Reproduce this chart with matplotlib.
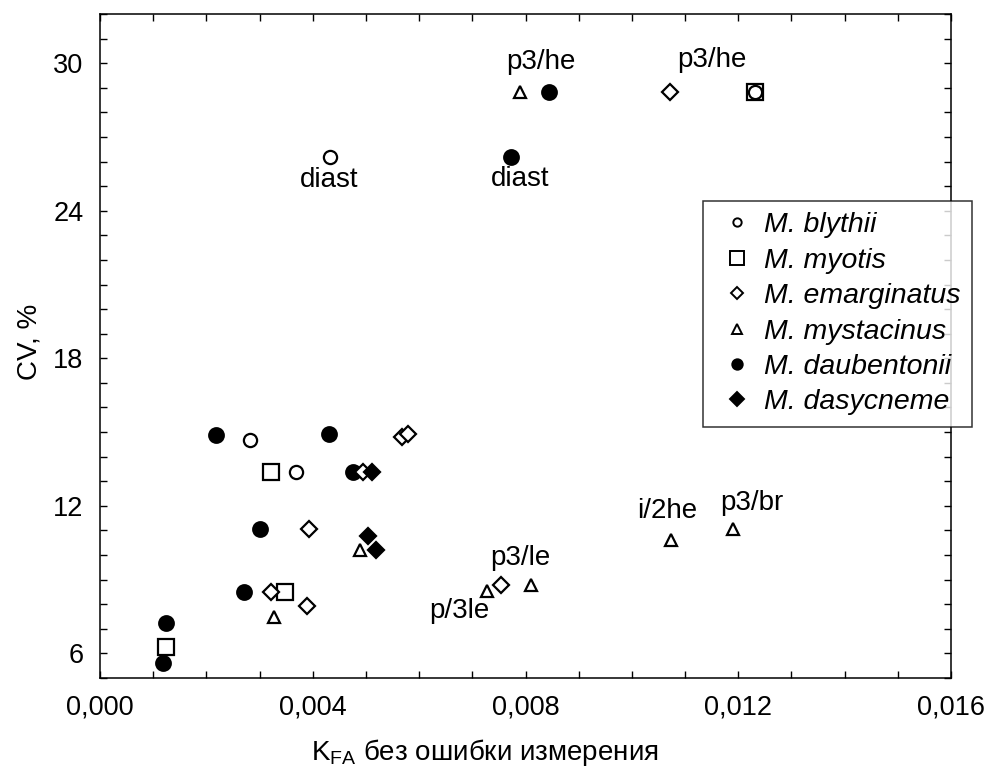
import matplotlib
matplotlib.use("Agg")
import matplotlib.pyplot as plt
from matplotlib.lines import Line2D
from matplotlib.ticker import MultipleLocator

plt.rcParams['font.family'] = ['Liberation Sans', 'DejaVu Sans']
plt.rcParams['mathtext.fontset'] = 'custom'
plt.rcParams['mathtext.rm'] = 'Liberation Sans'
plt.rcParams['mathtext.it'] = 'Liberation Sans:italic'

# ---- data ----
blythii_x = [0.00282, 0.00368, 0.00433, 0.01232]
blythii_y = [14.66, 13.38, 26.2, 28.82]

myotis_x = [0.00124, 0.00322, 0.00347, 0.01232]
myotis_y = [6.26, 13.38, 8.5, 28.82]

emarginatus_x = [0.00322, 0.00389, 0.00393, 0.00495, 0.00568, 0.0058, 0.00754, 0.01072]
emarginatus_y = [8.5, 7.94, 11.06, 13.38, 14.8, 14.93, 8.8, 28.82]

mystacinus_x = [0.00328, 0.00488, 0.00728, 0.0081, 0.0079, 0.01074, 0.0119]
mystacinus_y = [7.5, 10.2, 8.55, 8.8, 28.82, 10.6, 11.05]

daubentonii_x = [0.00118, 0.00125, 0.0027, 0.0030, 0.00218, 0.00431, 0.00475, 0.00773, 0.00845]
daubentonii_y = [5.63, 7.23, 8.5, 11.06, 14.88, 14.93, 13.38, 26.17, 28.82]

dasycneme_x = [0.00504, 0.00511, 0.00519]
dasycneme_y = [10.79, 13.38, 10.2]

species = ['M. blythii', 'M. myotis', 'M. emarginatus', 'M. mystacinus',
           'M. daubentonii', 'M. dasycneme']

note_text = ['p3/he', 'p3/he', 'diast', 'diast', 'p3/le', 'p/3le', 'i/2he', 'p3/br']
note_x = [0.00828, 0.01151, 0.0079, 0.00431, 0.0079, 0.00676, 0.01066, 0.01226]
note_y = [30.05, 30.11, 25.3, 25.23, 9.88, 7.71, 11.81, 12.12]

x_ticks = [0, 0.004, 0.008, 0.012, 0.016]
x_ticklabels = ['0,000', '0,004', '0,008', '0,012', '0,016']
y_ticks = [6, 12, 18, 24, 30]
y_ticklabels = ['6', '12', '18', '24', '30']

# ---- figure ----
fig = plt.figure(figsize=(9.87, 7.72), dpi=100)
ax = fig.add_axes([100/987, 1-678/772, 851/987, 664/772])
ax.set_xlim(0, 0.016)
ax.set_ylim(5, 32)

mew = 1.6
st_blythii = dict(marker='o', ms=9.5, mfc='white', mec='black', mew=mew)
st_myotis = dict(marker='s', ms=11.5, mfc='white', mec='black', mew=mew)
st_emarg = dict(marker='D', ms=7.8, mfc='white', mec='black', mew=mew)
st_myst = dict(marker='^', ms=9, mfc='white', mec='black', mew=mew)
st_daub = dict(marker='o', ms=10.5, mfc='black', mec='black', mew=mew)
st_dasy = dict(marker='D', ms=8, mfc='black', mec='black', mew=mew)

ax.plot(myotis_x, myotis_y, ls='none', zorder=3, **st_myotis)
ax.plot(blythii_x, blythii_y, ls='none', zorder=4, **st_blythii)
ax.plot(daubentonii_x, daubentonii_y, ls='none', zorder=3, **st_daub)
ax.plot(emarginatus_x, emarginatus_y, ls='none', zorder=4, **st_emarg)
ax.plot(mystacinus_x, mystacinus_y, ls='none', zorder=4, **st_myst)
ax.plot(dasycneme_x, dasycneme_y, ls='none', zorder=5, **st_dasy)

for t, x, y in zip(note_text, note_x, note_y):
    ax.text(x, y, t, ha='center', va='center', fontsize=20, zorder=6)

# ticks
ax.set_xticks(x_ticks)
ax.set_xticklabels(x_ticklabels)
ax.set_yticks(y_ticks)
ax.set_yticklabels(y_ticklabels)
ax.xaxis.set_minor_locator(MultipleLocator(0.001))
ax.yaxis.set_minor_locator(MultipleLocator(1))
ax.tick_params(which='both', direction='in', top=True, right=True,
               length=5, width=1, color='black')
ax.tick_params(axis='both', which='major', labelsize=19.5, pad=12)
for s in ax.spines.values():
    s.set_linewidth(1.1)

fig.text(30/987, 1-342/772, 'CV, %', rotation=90, ha='center', va='center', fontsize=20)
fig.text(485/987, 1-752/772, r'K$_{\mathrm{FA}}$ без ошибки измерения',
         ha='center', va='center', fontsize=20)

# legend
leg_sizes = [6, 9.5, 6, 6.5, 7.5, 7]
leg_styles = [st_blythii, st_myotis, st_emarg, st_myst, st_daub, st_dasy]
handles = []
for st, sz in zip(leg_styles, leg_sizes):
    d = dict(st)
    d['ms'] = sz
    d['mew'] = 1.4
    handles.append(Line2D([], [], ls='none', **d))
leg = fig.legend(handles, species, loc='upper left',
                 bbox_to_anchor=(703/987, 1-201/772), bbox_transform=fig.transFigure,
                 borderaxespad=0, frameon=True, fancybox=False, shadow=False,
                 prop={'family': 'Liberation Sans', 'style': 'italic', 'size': 20.5},
                 handlelength=1.6, handletextpad=0.15, labelspacing=0.33,
                 borderpad=0.4)
leg.get_frame().set_edgecolor('black')
leg.get_frame().set_linewidth(1.1)
leg.set_zorder(10)

fig.savefig('out.png', dpi=100, facecolor='white')
